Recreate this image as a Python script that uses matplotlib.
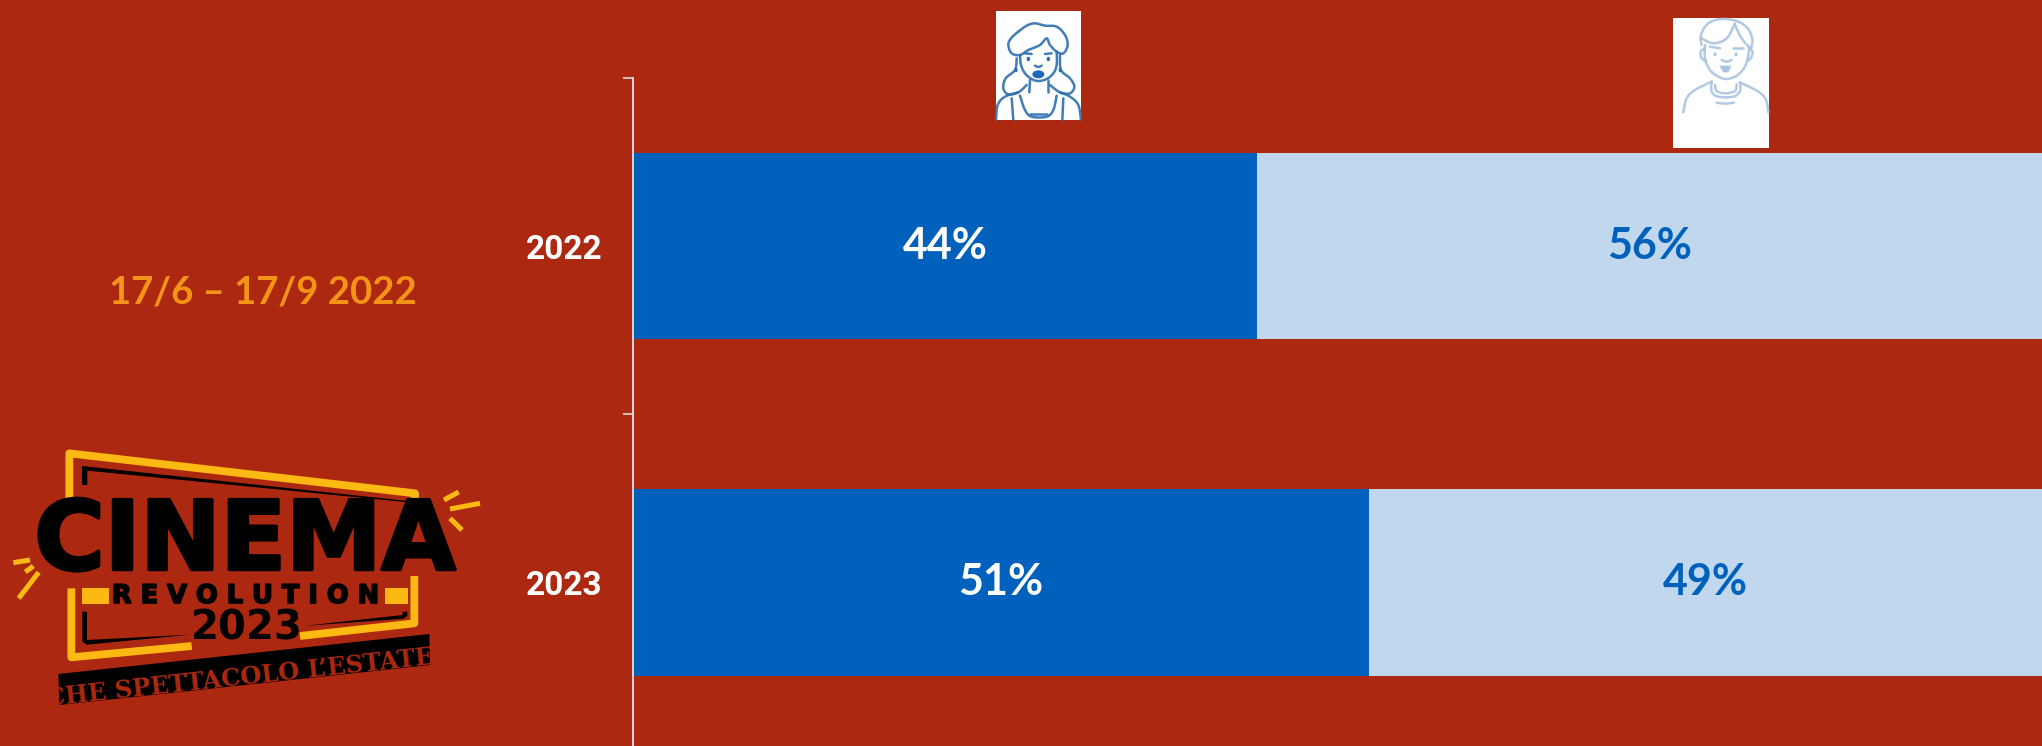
import numpy as np
import matplotlib
matplotlib.use('Agg')
import matplotlib.pyplot as plt
import matplotlib.patheffects as pe
from matplotlib.patches import Polygon, Rectangle, Ellipse

W, H = 2042, 746
BG = '#AD2810'
BLUE = '#0061BD'
LIGHT = '#C0D7EE'
YELLOW = '#FDB913'
ORANGE = '#F39416'

years = ['2022', '2023']
women = [43.6, 51.4]
men = [56.4, 48.6]
women_labels = ['44%', '51%']
men_labels = ['56%', '49%']


def smooth(points, closed=False, n=12):
    # catmull-rom through the hand picked points
    p = np.array(points, dtype=float)
    if closed:
        p = np.vstack([p[-1], p, p[0], p[1]])
    else:
        p = np.vstack([p[0], p, p[-1]])
    out = []
    for i in range(1, len(p) - 2):
        for t in np.linspace(0, 1, n, endpoint=False):
            out.append(0.5 * (2*p[i] + (p[i+1]-p[i-1])*t
                              + (2*p[i-1]-5*p[i]+4*p[i+1]-p[i+2])*t**2
                              + (3*p[i]-p[i-1]-3*p[i+1]+p[i+2])*t**3))
    out.append(p[-2])
    return np.array(out)


fig = plt.figure(figsize=(W/100, H/100), dpi=100, facecolor=BG)

# chart
left, top = 633, 78
ax = fig.add_axes([left/W, 0, (W-left)/W, (H-top)/H], facecolor='none')
band = 336.3
ax.set_xlim(0, (W-left)/1432*100)
ax.set_ylim(-0.5 + (H-top)/band, -0.5)
y = np.arange(len(years))
b1 = ax.barh(y, women, height=0.555, color=BLUE)
b2 = ax.barh(y, men, left=women, height=0.555, color=LIGHT)
ax.bar_label(b1, labels=women_labels, label_type='center', color='white',
             fontsize=31, fontweight='bold', family='Lato')
ax.bar_label(b2, labels=men_labels, label_type='center', color=BLUE,
             fontsize=31, fontweight='bold', family='Lato')
for s in ['top', 'right', 'bottom']:
    ax.spines[s].set_visible(False)
ax.spines['left'].set_color('#D9D9D9')
ax.spines['left'].set_linewidth(1.4)
ax.set_xticks([])
ax.set_yticks(y)
ax.set_yticklabels(years, family='Roboto', fontweight='bold', fontsize=24, color='white')
ax.tick_params(axis='y', which='major', length=0, pad=22)
ax.set_yticks([-0.5, 0.5], minor=True)
ax.tick_params(axis='y', which='minor', length=7.5, width=1.2, color='#D9D9D9')

# overlay in pixel coordinates for the logo, date and icons
ov = fig.add_axes([0, 0, 1, 1], facecolor='none')
ov.set_xlim(0, W)
ov.set_ylim(H, 0)
ov.axis('off')

ov.text(262.5, 292, '17/6 – 17/9 2022', color=ORANGE, family='Lato',
        fontweight='bold', fontsize=27.5, ha='center', va='center')


def logo(pts):
    return [(x/3, 430 + yy/3) for x, yy in pts]


def yline(pts, lw=5.6, color=YELLOW):
    q = np.array(logo(pts))
    ov.plot(q[:, 0], q[:, 1], color=color, lw=lw, solid_joinstyle='round', solid_capstyle='butt')


yline([(208, 218), (208, 70), (1245, 190), (1245, 220)])
yline([(214, 475), (214, 682), (575, 648)])
yline([(900, 618), (1243, 580), (1243, 438)])
for q in ([(245, 475), (327, 475), (327, 522), (245, 522)],
          [(1155, 475), (1225, 475), (1225, 522), (1155, 522)]):
    ov.add_patch(Polygon(logo(q), closed=True, color=YELLOW, lw=0))
# thin black inner frame
ov.add_patch(Polygon(logo([(246, 165), (246, 108), (1215, 212), (1215, 216), (262, 122), (262, 165)]),
                     closed=True, color='black', lw=0))
ov.add_patch(Polygon(logo([(247, 545), (261, 545), (261, 630), (570, 614), (260, 644), (247, 635)]),
                     closed=True, color='black', lw=0))
ov.add_patch(Polygon(logo([(910, 588), (1208, 555), (1208, 545), (1222, 545), (1222, 558), (1210, 566)]),
                     closed=True, color='black', lw=0))
# rays
for a, b in [((1332, 210), (1376, 186)), ((1350, 237), (1440, 220)), ((1350, 265), (1386, 300)),
             ((40, 398), (90, 390)), ((76, 426), (100, 408)), ((56, 505), (116, 427))]:
    yline([a, b], lw=3.6)

ov.text(245, 543, 'CINEMA', family='DejaVu Sans', fontweight='bold', fontsize=69,
        color='black', ha='center', va='center',
        path_effects=[pe.withStroke(linewidth=2.5, foreground='black')])
ov.text(246, 596, 'R E V O L U T I O N', family='DejaVu Sans', fontweight='bold', fontsize=18.5,
        color='black', ha='center', va='center',
        path_effects=[pe.withStroke(linewidth=1.2, foreground='black')])
ov.text(247, 629, '2023', family='DejaVu Sans', fontweight='bold', fontsize=29,
        color='black', ha='center', va='center')
ov.add_patch(Polygon(logo([(175, 732), (1288, 612), (1290, 705), (178, 825)]), closed=True, color='black', lw=0))
ov.text(245, 677, 'CHE SPETTACOLO L’ESTATE!', family='DejaVu Serif', fontweight='bold', fontsize=17.5,
        color=BG, ha='center', va='center', rotation=6.2, rotation_mode='anchor')


# icons
ov.add_patch(Rectangle((996, 11), 85, 109, color='white', lw=0))
ov.add_patch(Rectangle((1673, 18), 96, 130, color='white', lw=0))


def woman(x, yy):
    return 985 + x/3, 5 + yy/3


def man(x, yy):
    return 1660 + x/3, 5 + yy/3


def stroke(conv, pts, color, lw=1.8, closed=False):
    q = smooth(pts, closed=closed)
    xs, ys = conv(q[:, 0], q[:, 1])
    ov.plot(xs, ys, color=color, lw=lw, alpha=0.9, solid_capstyle='round', solid_joinstyle='round')


c_w = '#2E6FB0'
for pts in ([(105, 150), (108, 180), (120, 205), (140, 222), (160, 228), (185, 222), (205, 205), (215, 180), (215, 140)],
            [(95, 160), (90, 195), (62, 220), (55, 250), (70, 268), (100, 262), (125, 240)],
            [(225, 150), (228, 195), (255, 220), (268, 245), (255, 265), (225, 262), (195, 240)],
            [(135, 225), (133, 262)],
            [(190, 225), (190, 262)],
            [(33, 345), (38, 300), (60, 275), (100, 262)],
            [(288, 345), (280, 300), (255, 275), (225, 262)],
            [(80, 280), (85, 345)],
            [(235, 280), (232, 345)],
            [(105, 272), (120, 315), (140, 335), (185, 335), (205, 315), (215, 272)],
            [(135, 328), (185, 328)],
            [(150, 182), (160, 186), (170, 182)],
            [(120, 145), (140, 147)],
            [(180, 147), (200, 145)]):
    stroke(woman, pts, c_w)
stroke(woman, [(100, 80), (125, 62), (150, 55), (180, 62), (215, 65), (240, 90), (248, 120), (235, 145),
               (215, 140), (195, 120), (185, 100), (165, 120), (130, 135), (105, 150), (80, 145), (70, 120), (78, 100)],
       c_w, closed=True)
ov.add_patch(Ellipse(woman(160, 208), 12, 8, color='#1F6AB8', lw=0))
for e in [(130, 162), (190, 162), (93, 195), (226, 195)]:
    ov.add_patch(Ellipse(woman(*e), 3.5, 4.5, color=c_w, lw=0))

c_m = '#A9C4E0'
for pts in ([(125, 120), (122, 95), (135, 65), (160, 47), (195, 42), (235, 50), (265, 72), (277, 105), (272, 135)],
            [(125, 100), (160, 115), (200, 100), (225, 55)],
            [(225, 60), (245, 100), (270, 130)],
            [(135, 120), (135, 160), (150, 195), (175, 215), (200, 222), (230, 212), (255, 185), (265, 150), (268, 125)],
            [(135, 130), (122, 140), (125, 160), (138, 168)],
            [(268, 130), (278, 142), (272, 160), (262, 168)],
            [(150, 125), (180, 130)],
            [(220, 130), (250, 130)],
            [(185, 165), (200, 170), (215, 165)],
            [(155, 230), (155, 260), (175, 275), (220, 275), (240, 258), (240, 232)],
            [(165, 240), (170, 258), (195, 265), (225, 258), (230, 238)],
            [(155, 230), (105, 255), (80, 280), (70, 322)],
            [(240, 232), (295, 260), (318, 285), (325, 322)],
            [(170, 293), (195, 296), (222, 293)]):
    stroke(man, pts, c_m)
ov.add_patch(Polygon([man(178, 182), man(215, 182), man(205, 202), man(190, 202)], closed=True, color=c_m, lw=0))
for e in [(165, 148), (228, 148)]:
    ov.add_patch(Ellipse(man(*e), 3, 4, color=c_m, lw=0))

fig.savefig('out.png', dpi=100, facecolor=BG)
